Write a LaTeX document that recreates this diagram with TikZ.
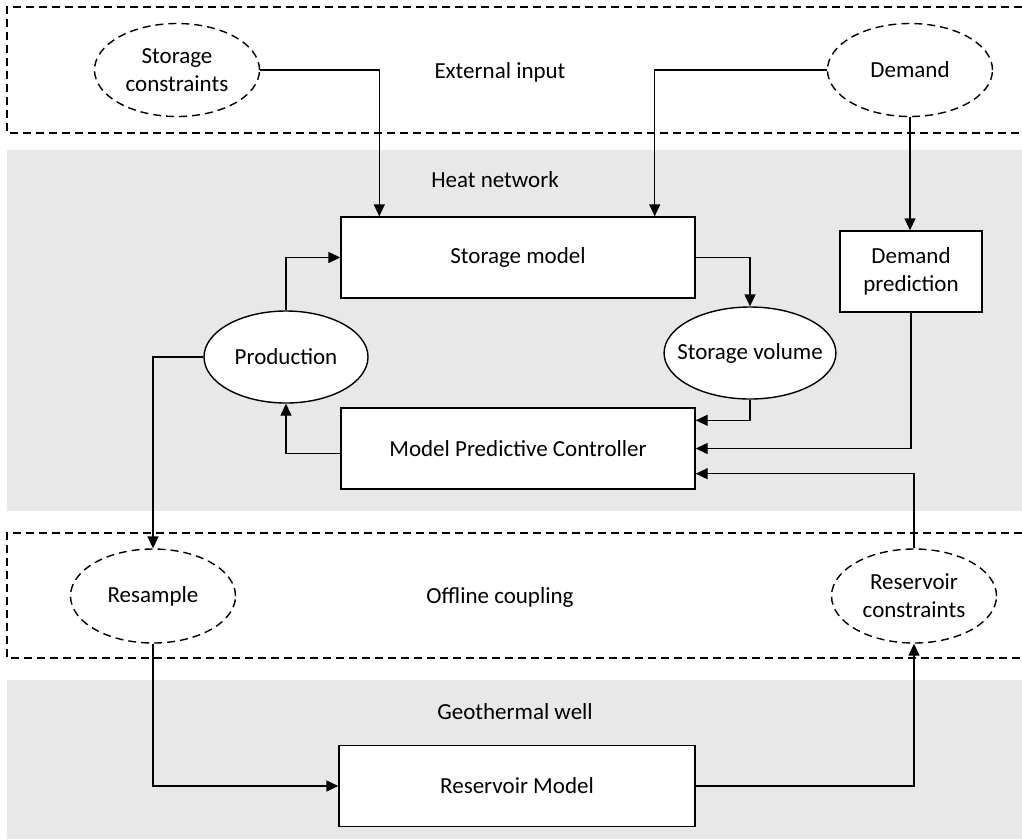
\documentclass[tikz,border=0pt]{standalone}
\usepackage{fontspec}
\setmainfont{Carlito}
\usetikzlibrary{shapes.geometric,arrows.meta,calc}
\definecolor{bandgray}{RGB}{232,232,232}
\tikzset{
  blockbox/.style={draw,fill=white,line width=1.4pt,minimum width=354pt,minimum height=81pt,inner sep=2pt},
  solidell/.style={draw,fill=white,ellipse,line width=1.4pt,minimum width=164pt,minimum height=92pt,inner sep=1pt,align=center},
  dashell/.style={draw,fill=white,ellipse,line width=1.4pt,dash pattern=on 8pt off 5pt,minimum width=165pt,minimum height=93pt,inner sep=1pt,align=center},
  bandlbl/.style={inner sep=0pt},
  conn/.style={line width=1.4pt,-{Triangle[length=12pt,width=11pt]}},
}
\begin{document}
\begin{tikzpicture}[x=1pt,y=1pt,yscale=-1,xscale=1,font=\fontsize{23}{28}\selectfont]
\useasboundingbox (0,0) rectangle (1022,839);

%Shape: Rectangle (bands)
\fill[bandgray] (7,150) rectangle (1022,511);
\fill[bandgray] (7,680) rectangle (1022,839);
\draw[line width=1.4pt,dash pattern=on 8pt off 5pt] (1022,7) -- (7,7) -- (7,133) -- (1022,133);
\draw[line width=1.4pt,dash pattern=on 8pt off 5pt] (1022,533) -- (7,533) -- (7,658) -- (1022,658);

%Band titles
\node[bandlbl] (extin) at (500,72) {External input};
\node[bandlbl] (heatnet) at (495,180) {Heat network};
\node[bandlbl] (offcpl) at (500,597) {Offline coupling};
\node[bandlbl] (geowell) at (515,712) {Geothermal well};

%Shape: Ellipse
\node[dashell] (sc) at (177,70) {Storage\\constraints};
\node[dashell] (dem) at (910,70) {Demand};
\node[solidell] (prod) at (286,357) {Production};
\node[solidell,minimum width=165pt,inner xsep=-12pt] (sv) at (750,353) {Storage volume};
\node[dashell,minimum height=94pt] (rs) at (153,596) {Resample};
\node[dashell,minimum height=94pt] (rc) at (914,596) {Reservoir\\constraints};

%Shape: Rectangle
\node[blockbox] (sm) at (518,257.5) {Storage model};
\node[blockbox] (mpc) at (518,448.5) {Model Predictive Controller};
\node[blockbox,minimum width=142pt,align=center] (dp) at (911,271.5) {Demand\\prediction};
\node[blockbox,minimum width=356pt] (rm) at (517,786) {Reservoir Model};

%Straight Lines
\draw[conn] (sc.east) -| ($(sm.north west)+(39,0)$);
\draw[conn] (dem.west) -| ($(sm.north east)+(-41,0)$);
\draw[conn] (dem.south) -- (dem.south |- dp.north);
\draw[conn] (sm.east) -| (sv.north);
\draw[conn] (prod.north) |- (sm.west);
\draw[conn] (sv.south) |- ($(mpc.north east)+(0,13)$);
\draw[conn] (dp.south) |- (mpc.east);
\draw[conn] (rc.north) |- ($(mpc.south east)+(0,-16)$);
\draw[conn] ($(mpc.west)+(0,5)$) -| (prod.south);
\draw[conn] (prod.west) -| (rs.north);
\draw[conn] (rs.south) |- (rm.west);
\draw[conn] (rm.east) -| (rc.south);

\end{tikzpicture}
\end{document}
